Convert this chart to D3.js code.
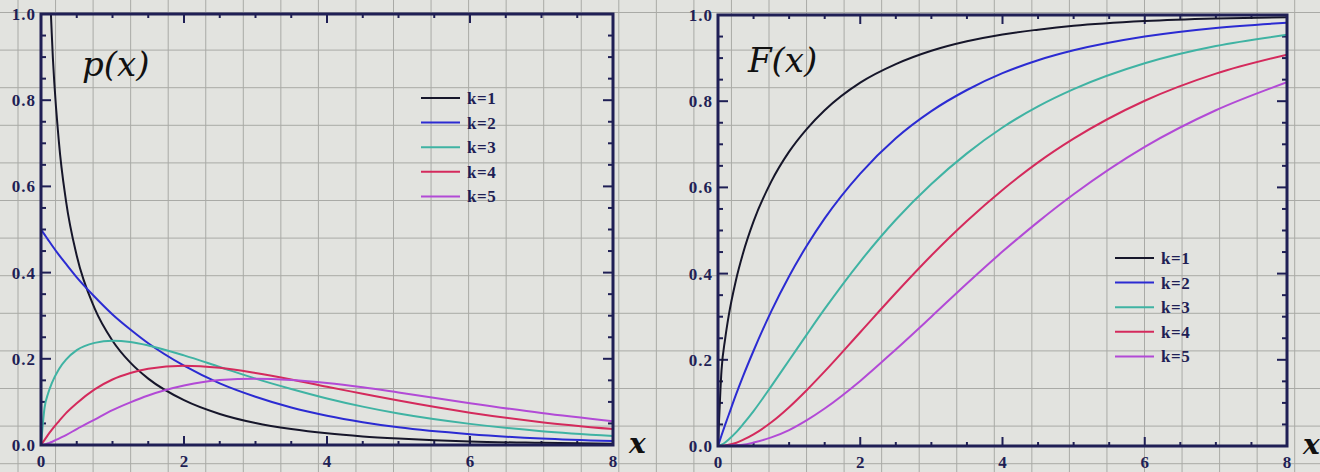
<!DOCTYPE html>
<html>
<head>
<meta charset="utf-8">
<script src="https://cdn.jsdelivr.net/npm/d3@7"></script>
<style>
  body { margin: 0; background: #e2e3df; }
  svg { display: block; }
</style>
</head>
<body>
<div id="chart-area"></div>
<script>
// sample points along x (shared by every curve)
const xs = [0, 0.05, 0.1, 0.15, 0.25, 0.35, 0.5, 0.75, 1, 1.25, 1.5, 2, 2.5, 3, 3.5, 4, 4.5, 5, 6, 7, 8];

// p(x)
const pdf1 = [null, 1.740, 1.200, 0.956, 0.704, 0.566, 0.439, 0.317, 0.242, 0.191, 0.154, 0.104, 0.072, 0.051, 0.037, 0.027, 0.020, 0.015, 0.008, 0.005, 0.003];
const pdf2 = [0.500, 0.488, 0.476, 0.464, 0.441, 0.420, 0.389, 0.344, 0.303, 0.268, 0.236, 0.184, 0.143, 0.112, 0.087, 0.068, 0.053, 0.041, 0.025, 0.015, 0.009];
const pdf3 = [0, 0.087, 0.120, 0.143, 0.176, 0.198, 0.220, 0.237, 0.242, 0.239, 0.231, 0.208, 0.181, 0.154, 0.130, 0.108, 0.089, 0.073, 0.049, 0.032, 0.021];
const pdf4 = [0, 0.012, 0.024, 0.035, 0.055, 0.074, 0.097, 0.129, 0.152, 0.167, 0.177, 0.184, 0.179, 0.167, 0.152, 0.135, 0.119, 0.103, 0.075, 0.053, 0.037];
const pdf5 = [0, 0.001, 0.004, 0.007, 0.015, 0.023, 0.037, 0.059, 0.081, 0.099, 0.115, 0.138, 0.151, 0.154, 0.151, 0.144, 0.134, 0.122, 0.097, 0.074, 0.055];

// F(x)
const cdf1 = [0, 0.177, 0.248, 0.302, 0.383, 0.446, 0.521, 0.614, 0.683, 0.736, 0.779, 0.843, 0.886, 0.917, 0.939, 0.955, 0.966, 0.975, 0.986, 0.992, 0.995];
const cdf2 = [0, 0.025, 0.049, 0.072, 0.118, 0.161, 0.221, 0.313, 0.394, 0.465, 0.528, 0.632, 0.714, 0.777, 0.826, 0.865, 0.895, 0.918, 0.950, 0.970, 0.982];
const cdf3 = [0, 0.003, 0.008, 0.015, 0.031, 0.050, 0.081, 0.139, 0.199, 0.259, 0.318, 0.428, 0.525, 0.608, 0.679, 0.739, 0.788, 0.828, 0.888, 0.928, 0.954];
const cdf4 = [0, 0.000, 0.001, 0.003, 0.007, 0.014, 0.027, 0.055, 0.090, 0.130, 0.173, 0.264, 0.355, 0.442, 0.522, 0.594, 0.658, 0.713, 0.801, 0.864, 0.908];
const cdf5 = [0, 0.000, 0.000, 0.001, 0.002, 0.003, 0.008, 0.020, 0.037, 0.060, 0.087, 0.151, 0.224, 0.300, 0.377, 0.451, 0.520, 0.584, 0.694, 0.779, 0.844];

const kLabels = ["k=1", "k=2", "k=3", "k=4", "k=5"];
const xTicks = [0, 2, 4, 6, 8];
const yTicks = [0, 0.2, 0.4, 0.6, 0.8, 1.0];

const colors = ["#16162a", "#2b2bd2", "#3fb3a3", "#d42a5c", "#b24ad6"];
const axisColor = "#1f1f55";

const W = 1320, H = 472;

const svg = d3.select("#chart-area").append("svg")
    .attr("width", W)
    .attr("height", H);

// graph paper background
svg.append("rect").attr("width", W).attr("height", H).attr("fill", "#e2e3df");
const paper = svg.append("g").attr("stroke", "#a9aaa6").attr("stroke-width", 1);
d3.range(18, W, 37.55).forEach(x => {
    paper.append("line").attr("x1", x).attr("x2", x).attr("y1", 0).attr("y2", H);
});
d3.range(12.5, H, 37.6).forEach(y => {
    paper.append("line").attr("x1", 0).attr("x2", W).attr("y1", y).attr("y2", y);
});

function drawPanel(opts) {
    let x = d3.scaleLinear().domain([0, 8]).range([opts.left, opts.right]);
    let y = d3.scaleLinear().domain([0, 1]).range([opts.bottom, opts.top]);

    let g = svg.append("g");

    g.append("defs").append("clipPath")
        .attr("id", opts.id)
        .append("rect")
        .attr("x", opts.left).attr("y", opts.top)
        .attr("width", opts.right - opts.left)
        .attr("height", opts.bottom - opts.top);

    // ticks on all four sides, pointing inward
    let ticks = g.append("g").attr("stroke", axisColor).attr("stroke-width", 2);
    d3.range(0.5, 8, 0.5).forEach(v => {
        let len = v % 2 === 0 ? 9 : 4;
        ticks.append("line").attr("x1", x(v)).attr("x2", x(v)).attr("y1", opts.bottom).attr("y2", opts.bottom - len);
        ticks.append("line").attr("x1", x(v)).attr("x2", x(v)).attr("y1", opts.top).attr("y2", opts.top + len);
    });
    d3.range(1, 20).forEach(i => {
        let v = i * 0.05;
        let len = i % 4 === 0 ? 10 : 5;
        ticks.append("line").attr("x1", opts.left).attr("x2", opts.left + len).attr("y1", y(v)).attr("y2", y(v));
        ticks.append("line").attr("x1", opts.right).attr("x2", opts.right - len).attr("y1", y(v)).attr("y2", y(v));
    });

    // curves
    let line = d3.line()
        .defined(d => d[1] != null)
        .curve(d3.curveMonotoneX)
        .x(d => x(d[0]))
        .y(d => y(d[1]));

    let curves = g.append("g").attr("clip-path", "url(#" + opts.id + ")");
    opts.series.forEach((s, i) => {
        curves.append("path")
            .attr("d", line(xs.map((v, j) => [v, s[j]])))
            .attr("fill", "none")
            .attr("stroke", colors[i])
            .attr("stroke-width", 2);
    });

    // frame
    g.append("rect")
        .attr("x", opts.left).attr("y", opts.top)
        .attr("width", opts.right - opts.left)
        .attr("height", opts.bottom - opts.top)
        .attr("fill", "none")
        .attr("stroke", axisColor)
        .attr("stroke-width", 3);

    // tick labels
    g.selectAll(".ylab")
        .data(yTicks)
        .enter().append("text")
        .attr("x", opts.left - 5)
        .attr("y", d => y(d))
        .attr("dy", "0.35em")
        .attr("text-anchor", "end")
        .attr("font-family", "Liberation Serif, serif")
        .attr("font-weight", "bold")
        .attr("font-size", 17)
        .attr("letter-spacing", 1)
        .attr("fill", axisColor)
        .text(d => d.toFixed(1));

    g.selectAll(".xlab")
        .data(xTicks)
        .enter().append("text")
        .attr("x", d => x(d))
        .attr("y", opts.bottom + 22)
        .attr("text-anchor", "middle")
        .attr("font-family", "Liberation Serif, serif")
        .attr("font-weight", "bold")
        .attr("font-size", 17)
        .attr("fill", axisColor)
        .text(d => d);

    // legend
    let legend = g.append("g");
    kLabels.forEach((k, i) => {
        let ly = opts.legendY + i * 24.6;
        legend.append("line")
            .attr("x1", opts.legendX).attr("x2", opts.legendX + 39)
            .attr("y1", ly).attr("y2", ly)
            .attr("stroke", colors[i])
            .attr("stroke-width", 2);
        legend.append("text")
            .attr("x", opts.legendX + 46)
            .attr("y", ly)
            .attr("dy", "0.35em")
            .attr("font-family", "Liberation Serif, serif")
            .attr("font-weight", "bold")
            .attr("font-size", 17)
            .attr("letter-spacing", 0.5)
            .attr("fill", axisColor)
            .text(k);
    });

    // handwritten annotations
    g.append("text")
        .attr("x", opts.titleX).attr("y", opts.titleY)
        .attr("font-family", "DejaVu Serif, serif")
        .attr("font-style", "italic")
        .attr("font-size", 34)
        .attr("fill", "#111")
        .text(opts.title);

    g.append("text")
        .attr("x", opts.right + 16).attr("y", opts.bottom + 8)
        .attr("font-family", "DejaVu Serif, serif")
        .attr("font-style", "italic")
        .attr("font-weight", "bold")
        .attr("font-size", 28)
        .attr("fill", "#111")
        .text("x");
}

drawPanel({
    id: "clip-pdf", left: 41, right: 613, top: 14, bottom: 445,
    series: [pdf1, pdf2, pdf3, pdf4, pdf5],
    legendX: 421, legendY: 98,
    title: "p(x)", titleX: 82, titleY: 76
});

drawPanel({
    id: "clip-cdf", left: 718, right: 1287, top: 15, bottom: 446,
    series: [cdf1, cdf2, cdf3, cdf4, cdf5],
    legendX: 1115, legendY: 258,
    title: "F(x)", titleX: 748, titleY: 72
});
</script>
</body>
</html>
